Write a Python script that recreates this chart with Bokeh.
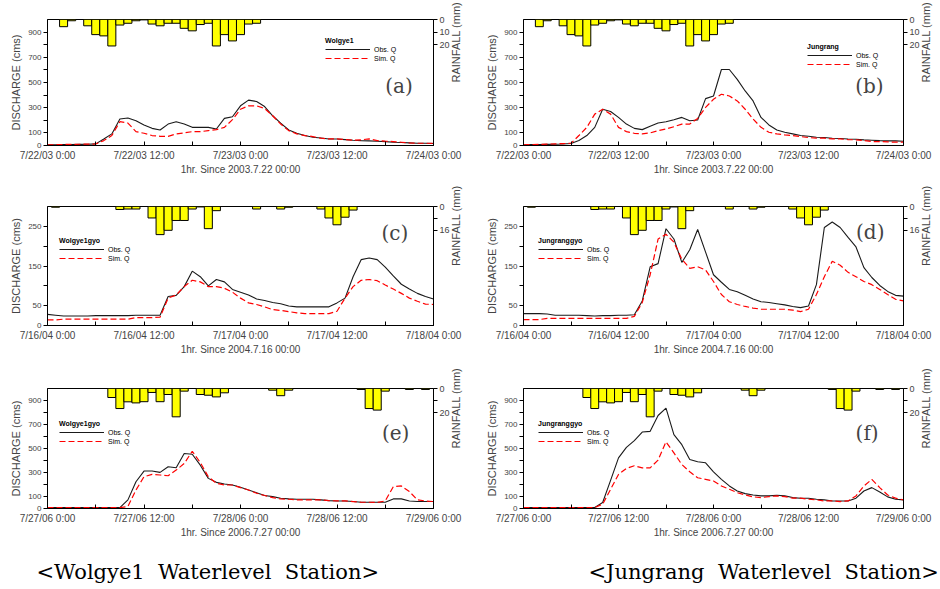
import math
from bokeh.plotting import figure
from bokeh.models import Range1d, LinearAxis, FixedTicker, Label, Title
from bokeh.layouts import column, row
from bokeh.embed import file_html
from bokeh.resources import INLINE

# ---------------- data ----------------
HOURS = list(range(49))  # hourly index since start of event

obs_a = [5, 6, 7, 8, 9, 10, 13, 52, 92, 210, 218, 197, 163, 136, 123, 170, 189, 170, 144, 144, 144, 131, 215, 228, 315,
         360, 349, 309, 236, 178, 123, 97, 79, 66, 60, 52, 52, 47, 42, 39, 37, 34, 31, 26, 24, 21, 18, 18, 16]
sim_a = [5, 6, 8, 9, 10, 11, 12, 39, 79, 189, 178, 110, 97, 79, 73, 73, 92, 100, 110, 110, 118, 126, 144, 205, 288,
         315, 315, 294, 236, 170, 118, 92, 79, 71, 58, 52, 52, 47, 42, 45, 52, 39, 34, 31, 26, 21, 18, 18, 16]
obs_b = [5, 7, 8, 9, 10, 12, 16, 39, 79, 144, 288, 270, 223, 170, 136, 126, 152, 178, 189, 205, 223, 197, 202, 372, 393,
         603, 603, 525, 433, 354, 223, 163, 123, 105, 92, 79, 73, 66, 63, 58, 55, 52, 50, 45, 42, 39, 37, 37, 34]
sim_b = [5, 7, 9, 11, 13, 15, 18, 79, 144, 249, 288, 249, 144, 110, 97, 92, 100, 118, 131, 149, 170, 170, 215, 302, 367,
         407, 393, 354, 288, 210, 144, 105, 92, 84, 79, 71, 63, 58, 58, 52, 52, 47, 45, 39, 31, 31, 29, 26, 26]
obs_c = [28, 26, 24, 24, 24, 24, 25, 25, 25, 25, 25, 26, 26, 26, 26, 73, 76, 98, 137, 123, 100, 116, 110, 91, 84,
         77, 67, 63, 58, 55, 49, 47, 47, 47, 47, 47, 57, 69, 123, 166, 170, 166, 147, 125, 104, 92, 81, 73, 67]
sim_c = [14, 14, 16, 16, 16, 16, 16, 16, 16, 16, 16, 20, 20, 20, 21, 69, 77, 98, 114, 110, 98, 98, 94, 84, 69,
         57, 53, 47, 40, 38, 35, 32, 30, 30, 30, 30, 36, 69, 98, 114, 116, 113, 102, 92, 81, 69, 61, 54, 53]
obs_d = [30, 30, 30, 29, 26, 26, 26, 26, 25, 24, 25, 25, 26, 26, 27, 62, 148, 156, 244, 218, 159, 191, 242, 185, 128,
         109, 91, 85, 76, 67, 60, 58, 55, 52, 48, 45, 49, 103, 247, 261, 247, 222, 198, 146, 121, 101, 86, 76, 74]
sim_d = [15, 15, 15, 18, 18, 18, 18, 18, 18, 18, 18, 18, 18, 18, 23, 58, 128, 218, 230, 210, 167, 144, 148, 140, 111,
         78, 60, 53, 48, 44, 41, 41, 41, 41, 39, 35, 41, 78, 123, 162, 152, 134, 123, 111, 103, 91, 78, 66, 62]
obs_e = [8, 8, 8, 8, 8, 8, 8, 8, 8, 8, 72, 223, 312, 312, 301, 348, 339, 458, 452, 361, 251, 218, 204, 196, 177,
         154, 132, 108, 99, 86, 80, 77, 77, 77, 72, 66, 63, 63, 58, 52, 52, 52, 52, 80, 80, 63, 58, 58, 58]
sim_e = [8, 8, 8, 8, 8, 8, 8, 8, 8, 8, 17, 154, 265, 284, 279, 273, 320, 375, 477, 383, 265, 210, 196, 196, 174,
         154, 127, 108, 91, 80, 77, 72, 72, 72, 72, 66, 63, 63, 58, 52, 52, 50, 63, 182, 188, 141, 72, 63, 58]
obs_f = [8, 8, 8, 8, 8, 8, 8, 8, 8, 8, 50, 234, 422, 510, 566, 637, 643, 775, 836, 615, 532, 408, 389, 381, 306,
         243, 188, 146, 124, 113, 105, 105, 110, 105, 91, 86, 86, 77, 72, 63, 63, 63, 86, 146, 174, 138, 97, 77, 72]
sim_f = [8, 8, 8, 8, 8, 8, 8, 8, 8, 8, 36, 160, 284, 334, 356, 339, 339, 403, 555, 463, 367, 306, 256, 243, 229,
         188, 160, 132, 113, 97, 91, 99, 105, 99, 86, 86, 77, 72, 63, 63, 58, 63, 105, 188, 243, 174, 113, 86, 72]

rain_2003_hr = [2, 3, 5, 6, 7, 8, 9, 10, 11, 12, 13, 14, 15, 16, 17, 18, 19, 20, 21, 22, 23, 24, 25, 26]
rain_2003_mm = [5.7, 1, 5, 12, 13, 21, 4.4, 3, 1, 0.3, 3.6, 5, 3, 3, 7, 9, 4, 3, 21, 12, 17, 12, 3.6, 3]
rain_2004_hr = [1, 9, 10, 11, 13, 14, 15, 16, 17, 18, 19, 20, 21, 26, 29, 30, 34, 35, 36, 37, 38]
rain_2004_mm = [0.5, 2, 1.7, 1.7, 7.7, 18.9, 16, 9.4, 9.4, 1.7, 0.3, 14.9, 2.8, 1.7, 1.7, 0.5, 1.7, 7.7, 12.3, 7.2, 2.4]
rain_2006_hr = [8, 9, 10, 11, 12, 13, 14, 15, 16, 17, 19, 20, 21, 22, 28, 29, 30, 39, 40, 41, 42, 45, 47]
rain_2006_mm = [7.5, 16.7, 11.1, 12, 11, 3.3, 11, 5, 23.6, 2.2, 5, 5.6, 7, 3.6, 1.4, 6, 1.4, 0.8, 16.7, 18, 2.2, 0.8, 0.8]

x_ticks = [0, 12, 24, 36, 48]
x_minor = [6, 18, 30, 42]
x_labels_2003 = ["7/22/03 0:00", "7/22/03 12:00", "7/23/03 0:00", "7/23/03 12:00", "7/24/03 0:00"]
x_labels_2004 = ["7/16/04 0:00", "7/16/04 12:00", "7/17/04 0:00", "7/17/04 12:00", "7/18/04 0:00"]
x_labels_2006 = ["7/27/06 0:00", "7/27/06 12:00", "7/28/06 0:00", "7/28/06 12:00", "7/29/06 0:00"]
x_title_2003 = "1hr. Since 2003.7.22 00:00"
x_title_2004 = "1hr. Since 2004.7.16 00:00"
x_title_2006 = "1hr. Since 2006.7.27 00:00"

q_ticks_1000 = [0, 100, 200, 300, 400, 500, 600, 700, 800, 900]
q_labels_1000 = ["0", "100", "", "300", "", "500", "", "700", "", "900"]
q_ticks_300 = [0, 50, 100, 150, 200, 250]
q_labels_300 = ["0", "50", "", "150", "", "250"]

r_ticks_2003 = [0, 10, 20]
r_labels_2003 = ["0", "10", "20"]
r_ticks_2004 = [0, 8, 16]
r_labels_2004 = ["0", "", "16"]
r_ticks_2006 = [0, 10, 20]
r_labels_2006 = ["0", "", "20"]

stations = ["Wolgye1", "Jungrang", "Wolgye1gyo", "Jungranggyo", "Wolgye1gyo", "Jungranggyo"]
letters = ["(a)", "(b)", "(c)", "(d)", "(e)", "(f)"]
captions = ["<Wolgye1\u00a0 Waterlevel\u00a0 Station>", "<Jungrang\u00a0 Waterlevel\u00a0 Station>"]

SANS = "Liberation Sans"
SERIF = "DejaVu Serif"


def panel(width, height, bl, br, bt, bb, obs, sim, rhr, rmm, rmax, rticks, rlabels,
          qmax, qticks, qlabels, xlabels, xtitle, station, legend_xy, letter, letter_xy):
    p = figure(width=width, height=height, output_backend="svg", toolbar_location=None,
               x_range=Range1d(0, 48), y_range=Range1d(0, qmax),
               min_border_left=bl, min_border_right=br, min_border_top=bt, min_border_bottom=bb,
               background_fill_color="white", border_fill_color="white")
    p.extra_y_ranges = {"rain": Range1d(start=rmax, end=0)}
    p.xgrid.visible = False
    p.ygrid.visible = False
    p.outline_line_color = "black"
    p.outline_line_width = 1
    p.outline_line_alpha = 1

    p.vbar(x=rhr, top=rmm, bottom=0, width=1, y_range_name="rain",
           fill_color="#FFFF00", line_color="black", line_width=1)
    p.line(HOURS, obs, color="#1a1a1a", line_width=1.1, legend_label="Obs. Q")
    p.line(HOURS, sim, color="#FF0000", line_width=1.2, line_dash="6 3", legend_label="Sim. Q")

    # x axis
    xa = p.xaxis[0]
    xa.ticker = FixedTicker(ticks=x_ticks, minor_ticks=x_minor)
    xa.major_label_overrides = {t: l for t, l in zip(x_ticks, xlabels)}
    xa.axis_label = xtitle
    xa.major_tick_in = 4
    xa.major_tick_out = 0
    xa.minor_tick_in = 4
    xa.minor_tick_out = 0
    xa.major_label_standoff = 4
    xa.axis_label_standoff = 0
    xa.major_label_text_font = SANS
    xa.major_label_text_font_size = "10px"
    xa.axis_label_text_font = SANS
    xa.axis_label_text_font_size = "10px"
    xa.axis_label_text_font_style = "normal"
    xa.axis_line_color = "black"

    # left axis (discharge)
    ya = p.yaxis[0]
    ya.ticker = FixedTicker(ticks=qticks, minor_ticks=[])
    ya.major_label_overrides = {t: l for t, l in zip(qticks, qlabels)}
    ya.axis_label = "DISCHARGE (cms)"
    ya.major_tick_in = 0
    ya.major_tick_out = 4
    ya.minor_tick_in = 0
    ya.minor_tick_out = 0
    ya.major_label_standoff = 2
    ya.axis_label_standoff = 3
    ya.major_label_text_font = SANS
    ya.major_label_text_font_size = "8px"
    ya.axis_label_text_font = SANS
    ya.axis_label_text_font_size = "11px"
    ya.axis_label_text_font_style = "normal"

    # right axis (rainfall), title reading bottom-to-top as in the original
    ra = LinearAxis(y_range_name="rain", axis_label="RAINFALL (mm)")
    ra.ticker = FixedTicker(ticks=rticks, minor_ticks=[])
    ra.major_label_overrides = {t: l for t, l in zip(rticks, rlabels)}
    ra.major_tick_in = 0
    ra.major_tick_out = 4
    ra.minor_tick_in = 0
    ra.minor_tick_out = 0
    ra.major_label_standoff = 2
    ra.axis_label_standoff = 3
    ra.major_label_text_font = SANS
    ra.major_label_text_font_size = "9px"
    ra.axis_label_text_font = SANS
    ra.axis_label_text_font_size = "11px"
    ra.axis_label_text_font_style = "normal"
    ra.axis_label_orientation = math.pi / 2
    p.add_layout(ra, "right")

    lg = p.legend[0]
    lg.title = station
    lg.title_text_font = SANS
    lg.title_text_font_size = "7px"
    lg.title_text_font_style = "bold"
    lg.title_text_color = "black"
    lg.title_standoff = 1
    lg.label_text_font = SANS
    lg.label_text_font_size = "7px"
    lg.label_text_color = "black"
    lg.glyph_width = 45
    lg.glyph_height = 8
    lg.label_height = 8
    lg.label_standoff = 4
    lg.spacing = 1
    lg.padding = 2
    lg.margin = 0
    lg.border_line_color = None
    lg.background_fill_alpha = 0
    lg.location = legend_xy

    p.add_layout(Label(x=letter_xy[0], y=letter_xy[1], text=letter, text_font=SERIF,
                       text_font_size="20px", text_align="center", text_baseline="middle"))
    return p


def caption(width, height, text, offset):
    c = figure(width=width, height=height, output_backend="svg", toolbar_location=None,
               x_axis_type=None, y_axis_type=None, x_range=Range1d(0, 1), y_range=Range1d(0, 1),
               min_border_left=0, min_border_right=0, min_border_top=0, min_border_bottom=0,
               background_fill_color="white", border_fill_color="white")
    c.outline_line_color = None
    c.title = Title(text=text, align="left", offset=offset, standoff=0, text_font=SERIF,
                    text_font_size="21px", text_font_style="normal", text_color="black")
    return c


LW, RW = 470, 470
H1, H2, H3, HC = 177, 180, 200, 31

pa = panel(LW, H1, 47, 33, 19, 30, obs_a, sim_a, rain_2003_hr, rain_2003_mm, 100, r_ticks_2003, r_labels_2003,
           1000, q_ticks_1000, q_labels_1000, x_labels_2003, x_title_2003, stations[0], (278, 83), letters[0], (43.7, 470))
pb = panel(RW, H1, 53, 32, 19, 30, obs_b, sim_b, rain_2003_hr, rain_2003_mm, 100, r_ticks_2003, r_labels_2003,
           1000, q_ticks_1000, q_labels_1000, x_labels_2003, x_title_2003, stations[1], (284, 77), letters[1], (43.7, 470))
pc = panel(LW, H2, 47, 33, 29, 31, obs_c, sim_c, rain_2004_hr, rain_2004_mm, 80, r_ticks_2004, r_labels_2004,
           300, q_ticks_300, q_labels_300, x_labels_2004, x_title_2004, stations[2], (12, 63), letters[2], (43.2, 233))
pd_ = panel(RW, H2, 53, 32, 29, 31, obs_d, sim_d, rain_2004_hr, rain_2004_mm, 80, r_ticks_2004, r_labels_2004,
            300, q_ticks_300, q_labels_300, x_labels_2004, x_title_2004, stations[3], (15, 63), letters[3], (43.8, 235))
pe = panel(LW, H3, 47, 33, 31, 49, obs_e, sim_e, rain_2006_hr, rain_2006_mm, 100, r_ticks_2006, r_labels_2006,
           1000, q_ticks_1000, q_labels_1000, x_labels_2006, x_title_2006, stations[4], (12, 63), letters[4], (43.3, 633))
pf = panel(RW, H3, 53, 32, 31, 49, obs_f, sim_f, rain_2006_hr, rain_2006_mm, 100, r_ticks_2006, r_labels_2006,
           1000, q_ticks_1000, q_labels_1000, x_labels_2006, x_title_2006, stations[5], (15, 63), letters[5], (43.4, 633))

ca = caption(LW, HC, captions[0], 36)
cb = caption(RW, HC, captions[1], 118)

layout = column(row(pa, pb), row(pc, pd_), row(pe, pf), row(ca, cb))
open("out.html", "w").write(file_html(layout, INLINE))
